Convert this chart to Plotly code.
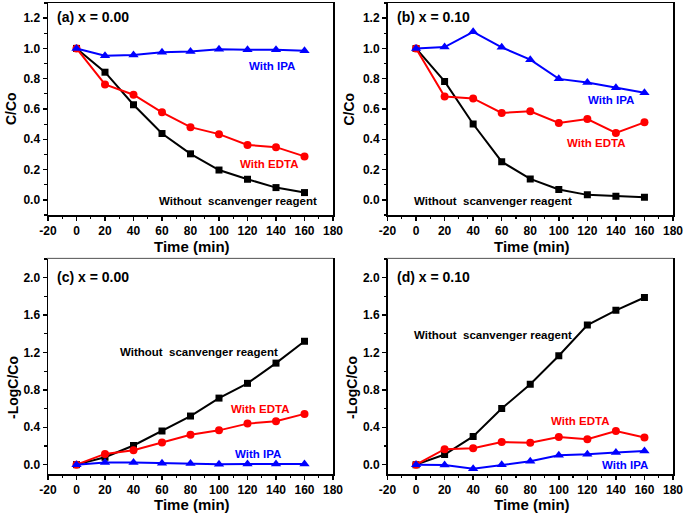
import plotly.graph_objects as go
from plotly.subplots import make_subplots

time_min = [0, 20, 40, 60, 80, 100, 120, 140, 160]

# (a) x = 0.00, C/Co
a_without = [1.0, 0.843, 0.628, 0.438, 0.304, 0.197, 0.136, 0.081, 0.048]
a_edta = [1.0, 0.762, 0.694, 0.578, 0.480, 0.434, 0.363, 0.348, 0.287]
a_ipa = [1.0, 0.952, 0.957, 0.974, 0.979, 0.994, 0.992, 0.992, 0.985]

# (b) x = 0.10, C/Co
b_without = [1.0, 0.782, 0.501, 0.252, 0.138, 0.068, 0.033, 0.024, 0.018]
b_edta = [1.0, 0.683, 0.670, 0.574, 0.585, 0.508, 0.534, 0.442, 0.512]
b_ipa = [1.0, 1.009, 1.110, 1.007, 0.926, 0.799, 0.775, 0.740, 0.707]

# (c) x = 0.00, -LogC/Co
c_without = [0.0, 0.079, 0.205, 0.360, 0.520, 0.712, 0.870, 1.086, 1.320]
c_edta = [0.0, 0.115, 0.155, 0.237, 0.320, 0.367, 0.439, 0.464, 0.543]
c_ipa = [0.0, 0.022, 0.022, 0.014, 0.011, 0.004, 0.007, 0.007, 0.007]

# (d) x = 0.10, -LogC/Co
d_without = [0.0, 0.108, 0.302, 0.600, 0.860, 1.165, 1.493, 1.651, 1.788]
d_edta = [0.0, 0.165, 0.176, 0.241, 0.234, 0.295, 0.273, 0.360, 0.291]
d_ipa = [0.0, -0.004, -0.043, 0.0, 0.036, 0.100, 0.111, 0.130, 0.147]

x_tickvals = [-20, 0, 20, 40, 60, 80, 100, 120, 140, 160, 180]
x_ticktext = ["-20", "0", "20", "40", "60", "80", "100", "120", "140", "160", "180"]

panel_titles = ["(a) x = 0.00", "(b) x = 0.10", "(c) x = 0.00", "(d) x = 0.10"]
label_without = "Without\u00a0 scanvenger reagent"
label_edta = "With EDTA"
label_ipa = "With IPA"

W, H = 685, 513
FONT = "Liberation Sans, Arial, sans-serif"

fig = make_subplots(rows=2, cols=2)

panels = [
    (1, 1, a_without, a_edta, a_ipa),
    (1, 2, b_without, b_edta, b_ipa),
    (2, 1, c_without, c_edta, c_ipa),
    (2, 2, d_without, d_edta, d_ipa),
]

for r, c, wo, ed, ip in panels:
    fig.add_trace(go.Scatter(x=time_min, y=wo, mode="lines+markers",
                             line=dict(color="black", width=2),
                             marker=dict(symbol="square", size=7, color="black"),
                             showlegend=False), row=r, col=c)
    fig.add_trace(go.Scatter(x=time_min, y=ed, mode="lines+markers",
                             line=dict(color="#FF0000", width=2),
                             marker=dict(symbol="circle", size=8, color="#FF0000"),
                             showlegend=False), row=r, col=c)
    fig.add_trace(go.Scatter(x=time_min, y=ip, mode="lines+markers",
                             line=dict(color="#0000FF", width=2),
                             marker=dict(symbol="triangle-up", size=9, color="#0000FF"),
                             showlegend=False), row=r, col=c)

def px_x(p):
    return p / W

def px_y(p):
    return 1 - p / H

xdom_l = [px_x(48), px_x(333)]
xdom_r = [px_x(387.5), px_x(673)]
ydom_t = [px_y(215), px_y(3)]
ydom_b = [px_y(474), px_y(259)]

axis_common = dict(showline=True, linecolor="black", linewidth=1.5, mirror=True,
                   ticks="outside", ticklen=4, tickwidth=1.5, tickcolor="black",
                   showgrid=False, zeroline=False, automargin=False,
                   tickfont=dict(family=FONT, size=12, color="black", weight="bold"))

xaxis_cfg = dict(range=[-20, 180], tickmode="array", tickvals=x_tickvals, ticktext=x_ticktext,
                 minor=dict(dtick=10, tick0=0, ticks="outside", ticklen=2.5, tickwidth=1.2, tickcolor="black"),
                 **axis_common)

for i, dom in enumerate([xdom_l, xdom_r, xdom_l, xdom_r], start=1):
    fig.layout["xaxis" + ("" if i == 1 else str(i))].update(domain=dom, **xaxis_cfg)

ytop_cfg = dict(range=[-0.1, 1.3], tick0=0, dtick=0.2, tickformat=".1f",
                minor=dict(dtick=0.1, ticks="outside", ticklen=2.5, tickwidth=1.2, tickcolor="black"),
                **axis_common)
ybot_cfg = dict(range=[-0.1, 2.2], tick0=0, dtick=0.4, tickformat=".1f",
                minor=dict(dtick=0.2, ticks="outside", ticklen=2.5, tickwidth=1.2, tickcolor="black"),
                **axis_common)

fig.layout.yaxis.update(domain=ydom_t, **ytop_cfg)
fig.layout.yaxis2.update(domain=ydom_t, **ytop_cfg)
fig.layout.yaxis3.update(domain=ydom_b, **ybot_cfg)
fig.layout.yaxis4.update(domain=ydom_b, **ybot_cfg)

annotations = []

def ann_paper(text, x, y, size, color="black", angle=0, xanchor="center"):
    annotations.append(dict(text=text, x=px_x(x), y=px_y(y), xref="paper", yref="paper",
                            showarrow=False, textangle=angle, xanchor=xanchor, yanchor="middle",
                            font=dict(family=FONT, size=size, color=color, weight="bold")))

def ann_data(text, ax, x, y, color, size=11.5):
    annotations.append(dict(text=text, x=x, y=y, xref="x" + ax, yref="y" + ax,
                            showarrow=False, xanchor="center", yanchor="middle",
                            font=dict(family=FONT, size=size, color=color, weight="bold")))

# axis titles
ann_paper("Time (min)", 191.5, 247, 15)
ann_paper("Time (min)", 531.5, 246, 15)
ann_paper("Time (min)", 191.5, 504.5, 15)
ann_paper("Time (min)", 531.5, 504.5, 15)
ann_paper("C/Co", 11, 109, 14, angle=-90)
ann_paper("C/Co", 348.5, 109, 14, angle=-90)
ann_paper("-LogC/Co", 13, 388, 14, angle=-90)
ann_paper("-LogC/Co", 352, 388, 14, angle=-90)

# panel titles
ann_paper(panel_titles[0], 55, 17.5, 14, xanchor="left")
ann_paper(panel_titles[1], 395, 17.5, 14, xanchor="left")
ann_paper(panel_titles[2], 55, 276.5, 14, xanchor="left")
ann_paper(panel_titles[3], 395, 276.5, 14, xanchor="left")

# series labels
ann_data(label_ipa, "", 137.3, 0.883, "#0000FF")
ann_data(label_edta, "", 134.9, 0.238, "#FF0000")
ann_data(label_without, "", 113.0, -0.007, "black")

ann_data(label_ipa, "2", 136.4, 0.659, "#0000FF")
ann_data(label_edta, "2", 126.4, 0.375, "#FF0000")
ann_data(label_without, "2", 53.7, -0.007, "black")

ann_data(label_without, "3", 86.2, 1.209, "black")
ann_data(label_edta, "3", 129.0, 0.594, "#FF0000")
ann_data(label_ipa, "3", 127.2, 0.112, "#0000FF")

ann_data(label_without, "4", 53.7, 1.385, "black")
ann_data(label_edta, "4", 114.9, 0.471, "#FF0000")
ann_data(label_ipa, "4", 146.6, 0.0, "#0000FF")

fig.update_layout(
    annotations=annotations,
    width=W, height=H,
    margin=dict(l=0, r=0, t=0, b=0, autoexpand=False),
    paper_bgcolor="white", plot_bgcolor="white",
    font=dict(family=FONT, color="black"),
    hovermode=False,
    shapes=[
        dict(type="line", xref="paper", yref="paper", x0=px_x(47), x1=px_x(333),
             y0=px_y(258), y1=px_y(258), line=dict(color="#d0d0d0", width=1)),
        dict(type="line", xref="paper", yref="paper", x0=px_x(387), x1=px_x(673),
             y0=px_y(258), y1=px_y(258), line=dict(color="#d0d0d0", width=1)),
    ],
)

fig.write_html(
    "out.html",
    config={"displayModeBar": False, "staticPlot": True},
    post_script="document.body.style.margin='0';document.body.style.padding='0';"
                "document.body.style.overflow='hidden';",
)
